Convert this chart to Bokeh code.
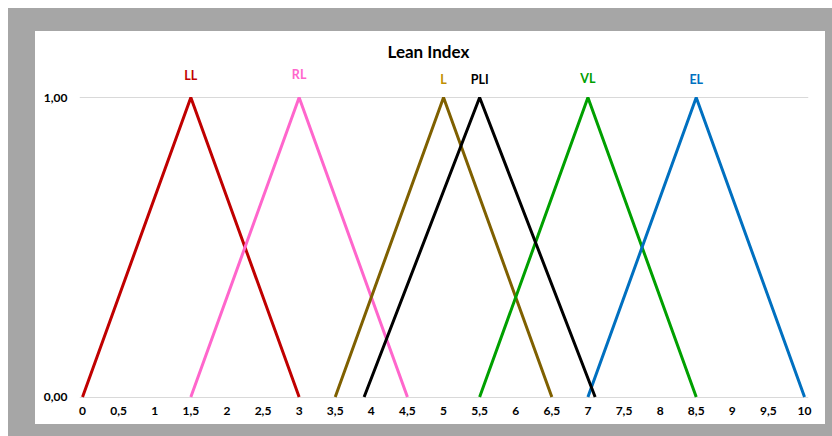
from bokeh.plotting import figure
from bokeh.layouts import column
from bokeh.models import FixedTicker, Title
from bokeh.embed import file_html
from bokeh.resources import INLINE

# Triangular membership functions of the lean index categories
categories = ["LL", "RL", "L", "VL", "EL", "PLI"]
LL_x = [0, 1.5, 3]
RL_x = [1.5, 3, 4.5]
L_x = [3.5, 5, 6.5]
VL_x = [5.5, 7, 8.5]
EL_x = [7, 8.5, 10]
PLI_x = [3.9, 5.5, 7.1]
membership = [0, 1, 0]

x_ticks = [i * 0.5 for i in range(21)]
x_tick_labels = ["0", "0,5", "1", "1,5", "2", "2,5", "3", "3,5", "4", "4,5", "5",
                 "5,5", "6", "6,5", "7", "7,5", "8", "8,5", "9", "9,5", "10"]
y_ticks = [0, 1]
y_tick_labels = ["0,00", "1,00"]

series_x = [LL_x, RL_x, L_x, VL_x, EL_x, PLI_x]
line_colors = ["#C00000", "#FF66CC", "#7F6000", "#00A000", "#0070C0", "#000000"]
label_colors = ["#C00000", "#FF66CC", "#BF9000", "#00A000", "#0070C0", "#000000"]
label_dy = [-22, -23, -18, -19, -18, -18]

FONT = "Lato"

p = figure(width=790, height=393, output_backend="svg", toolbar_location=None,
           x_range=(-0.042, 10.055), y_range=(-0.005, 1.117),
           min_border_left=44, min_border_right=17, min_border_top=31, min_border_bottom=26,
           margin=(23, 7, 12, 27), styles={"background-color": "white"})
p.background_fill_color = None
p.border_fill_color = None
p.outline_line_color = None

title = Title(text="Lean Index", align="left", offset=308, standoff=2,
              text_font=FONT, text_font_size="17px", text_font_style="bold",
              text_color="#000000")
p.add_layout(title, "above")

for xs, lc, tc, dy, name in zip(series_x, line_colors, label_colors, label_dy, categories):
    p.line(xs, membership, line_color=lc, line_width=3)
    peak = membership.index(max(membership))
    p.text(x=[xs[peak]], y=[membership[peak]], text=[name], text_color=tc,
           text_font={"value": FONT}, text_font_size="12.5px", text_font_style="bold",
           text_align="center", text_baseline="middle", y_offset=dy)

# axes
p.xaxis.ticker = FixedTicker(ticks=x_ticks)
p.xaxis.major_label_overrides = {t: s for t, s in zip(x_ticks, x_tick_labels)}
p.yaxis.ticker = FixedTicker(ticks=y_ticks)
p.yaxis.major_label_overrides = {t: s for t, s in zip(y_ticks, y_tick_labels)}
for ax in (p.xaxis[0], p.yaxis[0]):
    ax.axis_line_color = None
    ax.major_tick_line_color = None
    ax.minor_tick_line_color = None
    ax.major_tick_out = 0
    ax.major_tick_in = 0
    ax.major_label_text_font = FONT
    ax.major_label_text_font_size = "12px"
    ax.major_label_text_font_style = "bold"
    ax.major_label_text_color = "#000000"
p.xaxis.major_label_standoff = 8
p.yaxis.major_label_standoff = 12

p.xgrid.grid_line_color = None
p.ygrid.ticker = FixedTicker(ticks=y_ticks)
p.ygrid.grid_line_color = "#d9d9d9"
p.ygrid.grid_line_width = 1

page = column(p, margin=(8, 0, 0, 8),
              styles={"background-color": "#a6a6a6"})

open("out.html", "w").write(file_html(page, INLINE))
